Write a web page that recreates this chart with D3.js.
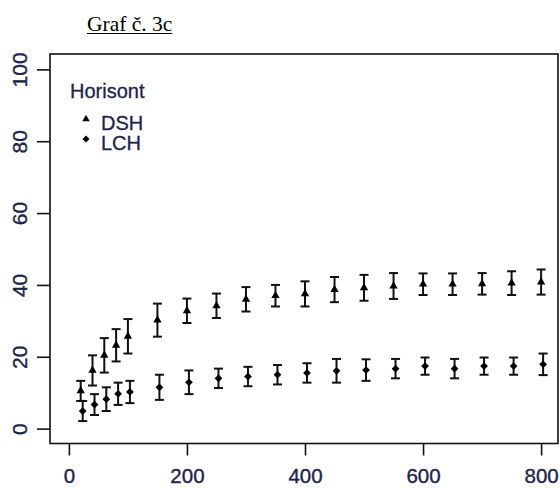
<!DOCTYPE html>
<html><head><meta charset="utf-8">
<script src="https://cdn.jsdelivr.net/npm/d3@7"></script>
<style>html,body{margin:0;padding:0;background:#fff;}svg{display:block;}</style>
</head><body>
<script>
const xVals = [20,40,60,80,100,150,200,250,300,350,400,450,500,550,600,650,700,750,800];
const dshMean = [10.5,16.2,20.4,23.2,25.7,30.2,32.8,34.2,36.0,37.0,37.5,38.7,39.2,39.7,40.2,40.2,40.3,40.5,40.8];
const dshErr  = [2.8,4.2,4.8,4.5,4.8,4.6,3.4,3.4,3.4,3.0,3.5,3.5,3.6,3.6,3.0,3.0,3.0,3.3,3.5];
const lchMean = [4.9,6.7,8.2,9.7,10.2,11.5,12.9,14.0,14.5,15.0,15.5,16.1,16.3,16.7,17.4,16.7,17.4,17.4,17.9];
const lchErr  = [2.8,2.9,3.3,3.1,3.1,3.5,3.3,2.7,2.7,2.7,2.7,3.3,3.0,2.7,2.4,2.7,2.4,2.4,3.0];
const xTicks = [0,200,400,600,800];
const yTicks = [0,20,40,60,80,100];
const titleText = "Graf č. 3c";
const legendTitle = "Horisont";
const seriesNames = ["DSH","LCH"];

const W = 560, H = 488;
const svg = d3.select("body").append("svg").attr("width",W).attr("height",H);
const x = d3.scaleLinear().domain([-32,832]).range([50,560]);
const y = d3.scaleLinear().domain([-4,104]).range([443,55]);
const box = {l:50, t:54, r:558, b:443.5};
const ink = "#111";
const txt = "#1e2448";
const sans = "'Liberation Sans',Arial,sans-serif";

// title
const t = svg.append("text").attr("x",87).attr("y",31)
  .attr("font-family","'Liberation Serif','Times New Roman',serif").attr("font-size",21.5)
  .attr("fill","#000").text(titleText);
const tw = t.node().getComputedTextLength();
svg.append("line").attr("x1",87).attr("x2",87+tw).attr("y1",33.5).attr("y2",33.5)
  .attr("stroke","#000").attr("stroke-width",1);

// box
svg.append("rect").attr("x",box.l).attr("y",box.t).attr("width",box.r-box.l).attr("height",box.b-box.t)
  .attr("fill","none").attr("stroke",ink).attr("stroke-width",1.6);

// axes
const xAxis = d3.axisBottom(x).tickValues(xTicks).tickSize(12).tickSizeOuter(0);
const gx = svg.append("g").attr("transform",`translate(0,${box.b})`).call(xAxis);
gx.select(".domain").remove();
gx.selectAll(".tick line").attr("stroke",ink).attr("stroke-width",1.6);
gx.selectAll(".tick text").attr("font-family",sans).attr("font-size",20.5)
  .attr("fill",txt).attr("stroke",txt).attr("stroke-width",0.35).attr("dy",0).attr("y",39.5);

const yAxis = d3.axisLeft(y).tickValues(yTicks).tickSize(13).tickSizeOuter(0);
const gy = svg.append("g").attr("transform",`translate(${box.l},0)`).call(yAxis);
gy.select(".domain").remove();
gy.selectAll(".tick line").attr("stroke",ink).attr("stroke-width",1.6);
gy.selectAll(".tick text").attr("font-family",sans).attr("font-size",21)
  .attr("fill",txt).attr("stroke",txt).attr("stroke-width",0.35).attr("x",0).attr("dy",0).attr("text-anchor","middle")
  .attr("transform","translate(-23,0) rotate(-90)");

// data
const series = [
  {name:seriesNames[0], mean:dshMean, err:dshErr, sym:d3.symbolTriangle, size:30, rot:0, dx:0},
  {name:seriesNames[1], mean:lchMean, err:lchErr, sym:d3.symbolSquare, size:30, rot:45, dx:2}
];
const capW = 4.5;
series.forEach(s => {
  const g = svg.append("g");
  const data = xVals.map((v,i)=>({x:v, m:s.mean[i], e:s.err[i]}));
  const bars = g.selectAll("g.bar").data(data).join("g").attr("class","bar")
    .attr("transform",d=>`translate(${x(d.x)+s.dx},0)`);
  bars.append("line").attr("x1",0).attr("x2",0).attr("y1",d=>y(d.m-d.e)).attr("y2",d=>y(d.m+d.e))
    .attr("stroke",ink).attr("stroke-width",2);
  bars.append("line").attr("x1",-capW).attr("x2",capW).attr("y1",d=>y(d.m+d.e)).attr("y2",d=>y(d.m+d.e))
    .attr("stroke",ink).attr("stroke-width",2);
  bars.append("line").attr("x1",-capW).attr("x2",capW).attr("y1",d=>y(d.m-d.e)).attr("y2",d=>y(d.m-d.e))
    .attr("stroke",ink).attr("stroke-width",2);
  bars.append("path").attr("d",d3.symbol().type(s.sym).size(s.size))
    .attr("transform",d=>`translate(0,${y(d.m)}) rotate(${s.rot})`).attr("fill","#000");
});

// legend
svg.append("text").attr("x",70).attr("y",98).attr("font-family",sans)
  .attr("font-size",20).attr("fill",txt).attr("stroke",txt).attr("stroke-width",0.3).text(legendTitle);
const legY = [130,150];
series.forEach((s,i)=>{
  svg.append("path").attr("d",d3.symbol().type(s.sym).size(s.size*0.8))
    .attr("transform",`translate(${86},${legY[i]-11}) rotate(${s.rot})`).attr("fill","#000");
  svg.append("text").attr("x",101).attr("y",legY[i]).attr("font-family",sans)
    .attr("font-size",20).attr("fill",txt).attr("stroke",txt).attr("stroke-width",0.3).text(s.name);
});
</script>
</body></html>
